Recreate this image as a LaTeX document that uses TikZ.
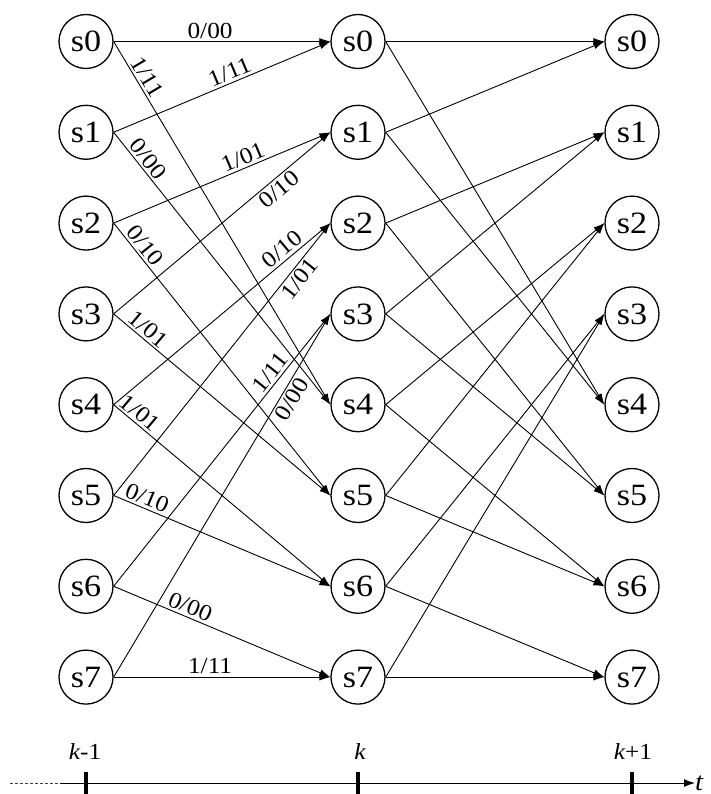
\documentclass[tikz,border=0pt]{standalone}
\usepackage{fontspec}
\setmainfont{Liberation Serif}[FakeStretch=1.1]
\usetikzlibrary{arrows.meta}
\begin{document}
\begin{tikzpicture}[x=1pt,y=-1pt,
  state/.style={circle,draw,line width=1.3pt,minimum size=54pt,inner sep=0pt,
    font=\fontsize{31}{31}\selectfont},
  edge/.style={line width=0.9pt,-{Latex[length=11pt,width=7pt]}},
  lab/.style={sloped,inner sep=2.5pt,font=\fontsize{23}{23}\selectfont},
  tick/.style={line width=3.8pt},
  axlab/.style={font=\fontsize{23}{23}\selectfont}]
\useasboundingbox (0,0) rectangle (710,794);
\foreach \i in {0,...,7}{
  \node[state] (a\i) at (86,41.5+90.8*\i) {s\i};
  \node[state] (b\i) at (358,41.5+90.8*\i) {s\i};
  \node[state] (c\i) at (632,41.5+90.8*\i) {s\i};
}
% k-1 -> k with labels
\draw[edge] (a0.east) -- node[lab,pos=.445,above]{0/00} (b0.west);
\draw[edge] (a0.east) -- node[lab,pos=.113,above]{1/11} (b4.west);
\draw[edge] (a1.east) -- node[lab,pos=.554,above]{1/11} (b0.west);
\draw[edge] (a1.east) -- node[lab,pos=.122,above]{0/00} (b4.west);
\draw[edge] (a2.east) -- node[lab,pos=.616,above]{1/01} (b1.west);
\draw[edge] (a2.east) -- node[lab,pos=.107,above]{0/10} (b5.west);
\draw[edge] (a3.east) -- node[lab,pos=.73,below]{0/10} (b1.west);
\draw[edge] (a3.east) -- node[lab,pos=.128,above]{1/01} (b5.west);
\draw[edge] (a4.east) -- node[lab,pos=.81,above]{0/10} (b2.west);
\draw[edge] (a4.east) -- node[lab,pos=.09,above]{1/01} (b6.west);
\draw[edge] (a5.east) -- node[lab,pos=.82,below]{1/01} (b2.west);
\draw[edge] (a5.east) -- node[lab,pos=.136,above]{0/10} (b6.west);
\draw[edge] (a6.east) -- node[lab,pos=.76,above]{1/11} (b3.west);
\draw[edge] (a6.east) -- node[lab,pos=.335,above]{0/00} (b7.west);
\draw[edge] (a7.east) -- node[lab,pos=.78,below]{0/00} (b3.west);
\draw[edge] (a7.east) -- node[lab,pos=.445,above]{1/11} (b7.west);
% k -> k+1
\foreach \s/\p/\q in {0/0/4,1/0/4,2/1/5,3/1/5,4/2/6,5/2/6,6/3/7,7/3/7}{
  \draw[edge] (b\s.east) -- (c\p.west);
  \draw[edge] (b\s.east) -- (c\q.west);
}
% time axis
\coordinate (d0) at (10,783);
\coordinate (d1) at (60,783);
\coordinate (tend) at (695,783);
\draw[line width=1pt,dash pattern=on 2.5pt off 2.5pt,black!75] (d0) -- (d1);
\draw[line width=1pt,-{Latex[length=11pt,width=8pt]}] (d1) -- (tend);
\foreach \n/\x in {t0/86,t1/358,t2/632}{
  \coordinate (\n a) at (\x,772);
  \coordinate (\n b) at (\x,796);
  \draw[tick] (\n a) -- (\n b);
}
\node[axlab] (l0) at (85,752) {\itshape k\upshape-1};
\node[axlab] (l1) at (360,752) {\itshape k};
\node[axlab] (l2) at (633,752) {\itshape k\upshape+1};
\node[font=\fontsize{26}{26}\selectfont\itshape,anchor=base west,inner sep=0pt] (tl) at (695,790) {t};
\end{tikzpicture}
\end{document}
